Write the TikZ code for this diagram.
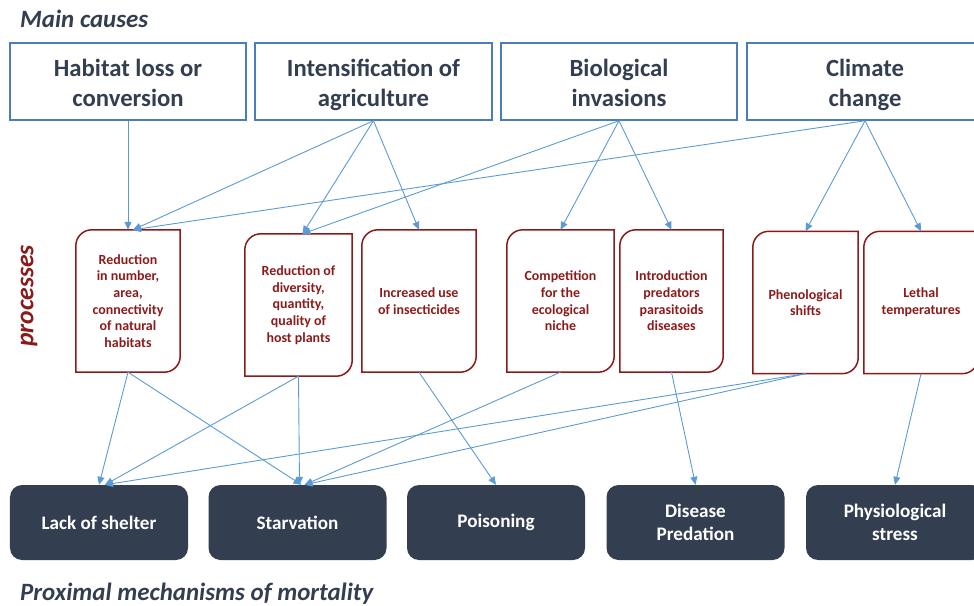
\documentclass[tikz,border=0pt]{standalone}
\usepackage{fontspec}
\setmainfont{Carlito}
\usetikzlibrary{arrows.meta}
\definecolor{causeblue}{HTML}{4A7EBB}
\definecolor{darktext}{HTML}{333F50}
\definecolor{procred}{HTML}{8B1A1A}
\definecolor{arrowblue}{HTML}{5B9BD5}
\newcommand{\topstrut}{\rule{0pt}{29bp}}
\tikzset{cause/.style={draw=causeblue, line width=1.5bp, minimum width=236bp, minimum height=77bp, align=center, text=darktext, font=\fontsize{24.8}{30}\selectfont\bfseries, inner sep=0pt}}
\tikzset{proc/.style={minimum height=142bp, align=center, text=procred, font=\fontsize{14}{16.7}\selectfont\bfseries, inner sep=0pt}}
\tikzset{mech/.style={fill=darktext, rounded corners=12bp, minimum width=178bp, minimum height=75bp, align=center, text=white, font=\fontsize{19.2}{23}\selectfont\bfseries, inner sep=0pt}}
\tikzset{heading/.style={text=darktext, font=\fontsize{25}{29}\selectfont\bfseries\itshape, anchor=base west, inner sep=0pt}}
\tikzset{arr/.style={draw=arrowblue, line width=0.9bp, -{Triangle[length=8bp,width=7bp]}}}
\newcommand{\procframe}[1]{\draw[procred, line width=1.5bp] (#1.north east) -- ([yshift=16bp]#1.south east) arc[start angle=0, end angle=-90, radius=16bp] -- (#1.south west) -- ([yshift=-16bp]#1.north west) arc[start angle=180, end angle=90, radius=16bp] -- cycle;}

\begin{document}
\begin{tikzpicture}[x=1bp, y=1bp]
\useasboundingbox (0,0) rectangle (974,-606);
\node[heading] (maincauses) at (20,-28) {Main causes};
\node[heading] (proximal) at (20,-600) {Proximal mechanisms of mortality};
\node[rotate=90, text=procred, font=\fontsize{25.7}{30}\selectfont\bfseries\itshape, inner sep=0pt] (proclabel) at (29,-296) {processes};
% main causes
\node[cause] (habitat) at (128,-81.5) {\topstrut Habitat loss or\\\strut conversion};
\node[cause, minimum width=237bp] (agri) at (373.5,-81.5) {\topstrut Intensification of\\\strut agriculture};
\node[cause] (invasion) at (619,-81.5) {\topstrut Biological\\\strut invasions};
\node[cause] (climate) at (865,-81.5) {\topstrut Climate\\\strut change};
% processes
\node[proc, minimum width=104bp] (natural) at (128,-301) {Reduction\\in number,\\area,\\connectivity\\of natural\\habitats};
\node[proc, minimum width=107bp] (hostplant) at (298.5,-305) {Reduction of\\diversity,\\quantity,\\quality of\\host plants};
\node[proc, minimum width=114bp] (insecticide) at (419,-301) {Increased use\\of insecticides};
\node[proc, minimum width=107bp] (niche) at (560.5,-301) {Competition\\for the\\ecological\\niche};
\node[proc, minimum width=103bp] (predators) at (671.5,-301) {Introduction\\predators\\parasitoids\\diseases};
\node[proc, minimum width=105bp] (phenology) at (805.5,-302.5) {Phenological\\shifts};
\node[proc, minimum width=114bp] (lethal) at (921,-302.5) {Lethal\\temperatures};
\procframe{natural}
\procframe{hostplant}
\procframe{insecticide}
\procframe{niche}
\procframe{predators}
\procframe{phenology}
\procframe{lethal}
% mechanisms
\node[mech] (shelter) at (99,-522.5) {Lack of shelter};
\node[mech] (starve) at (297.5,-522.5) {Starvation};
\node[mech] (poison) at (496,-522.5) {Poisoning};
\node[mech] (disease) at (695.5,-522.5) {Disease\\Predation};
\node[mech] (stress) at (895,-522.5) {Physiological\\stress};
% causes to processes
\draw[arr] (habitat.south) -- (natural.north);
\draw[arr] (agri.south) -- ([xshift=5bp]natural.north);
\draw[arr] (agri.south) -- ([xshift=4bp]hostplant.north);
\draw[arr] (agri.south) -- (insecticide.north);
\draw[arr] (invasion.south) -- ([xshift=4bp]hostplant.north);
\draw[arr] (invasion.south) -- (niche.north);
\draw[arr] (invasion.south) -- (predators.north);
\draw[arr] (climate.south) -- ([xshift=5bp]natural.north);
\draw[arr] (climate.south) -- (phenology.north);
\draw[arr] (climate.south) -- (lethal.north);
% processes to mechanisms
\draw[arr] (natural.south) -- (shelter.north);
\draw[arr] (natural.south) -- ([xshift=4bp]starve.north);
\draw[arr] (hostplant.south) -- ([xshift=6bp]shelter.north);
\draw[arr] (hostplant.south) -- ([xshift=2bp]starve.north);
\draw[arr] (insecticide.south) -- (poison.north);
\draw[arr] (niche.south) -- ([xshift=7bp]starve.north);
\draw[arr] (predators.south) -- (disease.north);
\draw[arr] (phenology.south) -- ([xshift=6bp]shelter.north);
\draw[arr] (phenology.south) -- ([xshift=7bp]starve.north);
\draw[arr] (lethal.south) -- (stress.north);
\end{tikzpicture}
\end{document}
